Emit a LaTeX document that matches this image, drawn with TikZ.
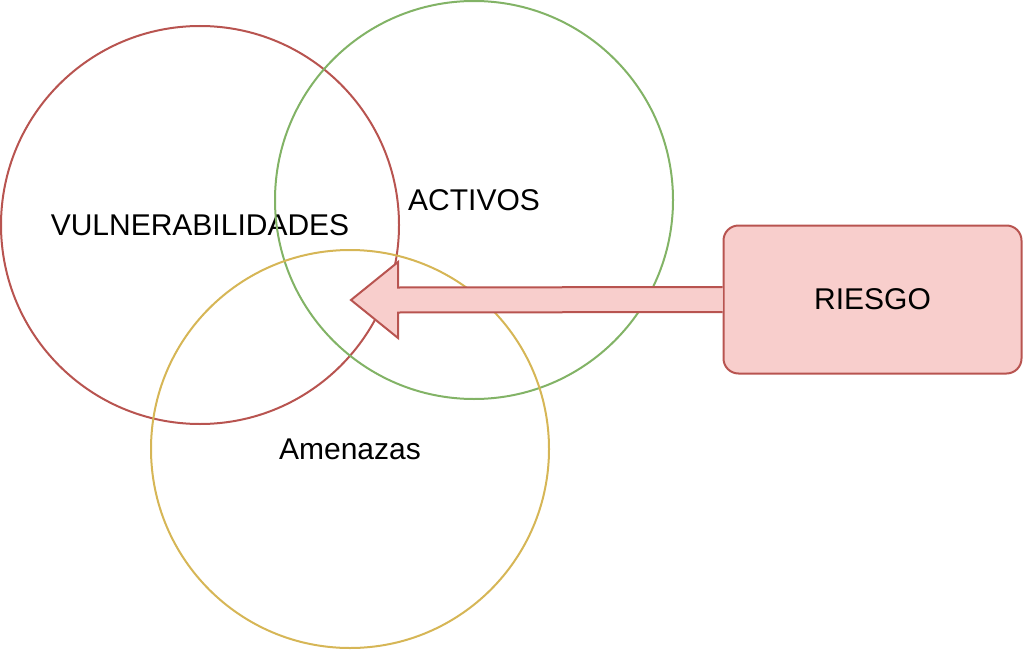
\documentclass[tikz,border=0pt]{standalone}
\usepackage{fontspec}
\setmainfont{Liberation Sans}
\usetikzlibrary{shapes}
\usetikzlibrary{calc}
\definecolor{redline}{HTML}{B85450}
\definecolor{redfill}{HTML}{F8CECC}
\definecolor{greenline}{HTML}{82B366}
\definecolor{yellowline}{HTML}{D6B656}
\tikzstyle{set} = [circle,draw,line width=2pt,inner sep=0pt,
minimum size=398pt, font=\fontsize{30}{35}\selectfont]
\tikzstyle{riskbox} = [rectangle,rounded corners=15pt,draw=redline,fill=redfill,
line width=2pt,minimum width=298pt,minimum height=148pt,
font=\fontsize{30}{35}\selectfont]
\tikzstyle{blockarrow} = [draw=redline,fill=redfill,line width=2pt,line join=miter]

\begin{document}
\begin{tikzpicture}[x=1pt,y=-1pt]
  \useasboundingbox (0,0) rectangle (1024,650);
  \node[set, draw=redline] (vul) at (200,225) {VULNERABILIDADES};
  \node[set, draw=greenline] (act) at (474,200) {ACTIVOS};
  \node[set, draw=yellowline] (ame) at (350,449) {Amenazas};

  \node[riskbox] (riesgo) at (872.5,299.5) {RIESGO};
  \coordinate (tip) at (351,300);

  % block arrow from RIESGO into the overlap
  \path[blockarrow] ($(riesgo.west)+(0,-12.5)$) -- ($(tip)+(47,-12.5)$)
    -- ($(tip)+(47,-38)$) -- (tip) -- ($(tip)+(47,38)$)
    -- ($(tip)+(47,12.5)$) -- ($(riesgo.west)+(0,12.5)$);
\end{tikzpicture}
\end{document}
